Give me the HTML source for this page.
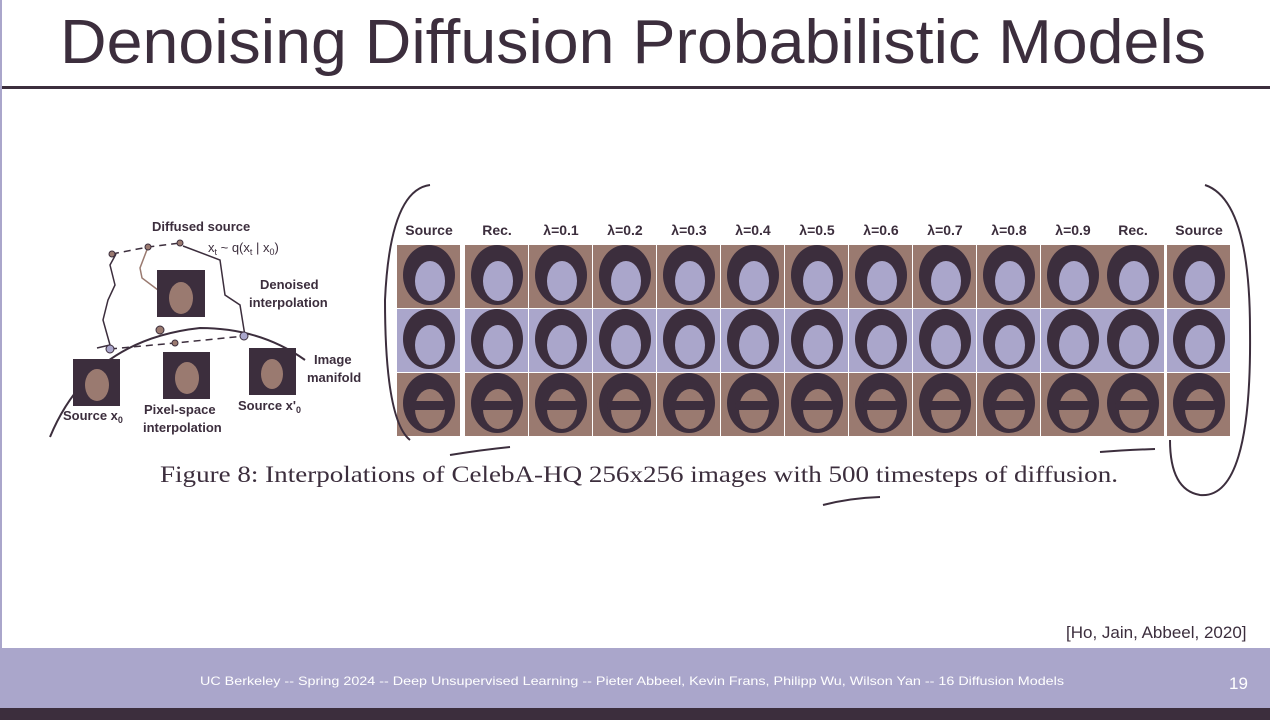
<!DOCTYPE html>
<html><head><meta charset="utf-8"><style>
body{margin:0;width:1270px;height:720px;overflow:hidden;background:#fff;position:relative;font-family:"Liberation Sans",sans-serif}
.abs{position:absolute}
</style></head><body>
<div class="abs" style="left:0;top:0;width:2px;height:648px;background:#aaa6cb"></div>
<svg class="abs" style="left:0;top:0" width="1270" height="720">
<text x="60" y="63" font-size="62" fill="#3c2e3d" textLength="1146" lengthAdjust="spacingAndGlyphs" font-family="Liberation Sans, sans-serif">Denoising Diffusion Probabilistic Models</text>
<rect x="2" y="86" width="1268" height="3" fill="#3c2e3d"/>
<g font-family="Liberation Sans, sans-serif" font-weight="bold" font-size="13" fill="#3c2e3d">
<text x="152" y="231">Diffused source</text>
<text x="208" y="252" font-weight="normal">x<tspan font-size="9" dy="3">t</tspan><tspan dy="-3"> ~ q(x</tspan><tspan font-size="9" dy="3">t</tspan><tspan dy="-3"> | x</tspan><tspan font-size="9" dy="3">0</tspan><tspan dy="-3">)</tspan></text>
<text x="260" y="289">Denoised</text><text x="249" y="307">interpolation</text>
<text x="314" y="364">Image</text><text x="307" y="382">manifold</text>
<text x="63" y="420">Source x<tspan font-size="9" dy="3">0</tspan></text>
<text x="144" y="414">Pixel-space</text><text x="143" y="432">interpolation</text>
<text x="238" y="410">Source x'<tspan font-size="9" dy="3">0</tspan></text>
<path d="M50 437 Q90 340 200 328 Q260 328 305 360" stroke="#3c2e3d" stroke-width="2" fill="none"/>
<path d="M110 349 L175 343 L245 336 M112 254 L148 247 L180 243" stroke="#3c2e3d" stroke-width="1.5" stroke-dasharray="7,5" fill="none"/>
<path d="M97 348 L110 345 L103 320 L108 300 L115 285 L110 265 L116 254" stroke="#3c2e3d" stroke-width="1.5" fill="none"/>
<path d="M245 336 L240 305 L225 295 L220 260 L183 246" stroke="#3c2e3d" stroke-width="1.5" fill="none"/>
<path d="M158 310 L158 290 L142 278 L140 268 L148 247" stroke="#9a7a70" stroke-width="1.5" fill="none"/>
<circle cx="110" cy="349" r="4" fill="#aaa6cb" stroke="#3c2e3d"/><circle cx="160" cy="330" r="4" fill="#9a7a70" stroke="#3c2e3d"/><circle cx="244" cy="336" r="4" fill="#aaa6cb" stroke="#3c2e3d"/>
<circle cx="112" cy="254" r="3" fill="#9a7a70" stroke="#3c2e3d"/><circle cx="148" cy="247" r="3" fill="#9a7a70" stroke="#3c2e3d"/><circle cx="180" cy="243" r="3" fill="#9a7a70" stroke="#3c2e3d"/><circle cx="175" cy="343" r="3" fill="#9a7a70" stroke="#3c2e3d"/>
<rect x="157" y="270" width="48" height="47" fill="#3c2e3d"/><ellipse cx="181" cy="298" rx="12" ry="16" fill="#9a7a70"/>
<rect x="73" y="359" width="47" height="47" fill="#3c2e3d"/><ellipse cx="97" cy="385" rx="12" ry="16" fill="#9a7a70"/>
<rect x="163" y="352" width="47" height="47" fill="#3c2e3d"/><ellipse cx="187" cy="378" rx="12" ry="16" fill="#9a7a70"/>
<rect x="249" y="348" width="47" height="47" fill="#3c2e3d"/><ellipse cx="272" cy="374" rx="11" ry="15" fill="#9a7a70"/>
</g>
<g id="grid"></g>
<text x="160" y="482" font-size="23" fill="#3c2e3d" font-family="Liberation Serif, serif" textLength="958" lengthAdjust="spacingAndGlyphs">Figure 8:  Interpolations of CelebA-HQ 256x256 images with 500 timesteps of diffusion.</text>
<g stroke="#3c2e3d" stroke-width="2" fill="none">
<path d="M430 185 Q390 190 385 300 Q385 420 410 440"/>
<path d="M1205 185 Q1250 200 1250 330 Q1252 500 1200 495 Q1170 490 1170 440"/>
<path d="M823 505 Q850 498 880 497"/><path d="M450 455 Q480 450 510 447"/><path d="M1100 452 Q1125 450 1155 449"/>
</g>
<text x="1066" y="638" font-size="17" fill="#3c2e3d">[Ho, Jain, Abbeel, 2020]</text>
<rect x="0" y="648" width="1270" height="61" fill="#aaa6cb"/>
<rect x="0" y="708" width="1270" height="12" fill="#3c2e3d"/>
<text x="200" y="685" font-size="12" fill="#fff" textLength="864" lengthAdjust="spacingAndGlyphs">UC Berkeley -- Spring 2024 -- Deep Unsupervised Learning -- Pieter Abbeel, Kevin Frans, Philipp Wu, Wilson Yan -- 16 Diffusion Models</text>
<text x="1229" y="689" font-size="17" fill="#fff">19</text>
</svg>
<script>
const headers=["Source","Rec.","λ=0.1","λ=0.2","λ=0.3","λ=0.4","λ=0.5","λ=0.6","λ=0.7","λ=0.8","λ=0.9","Rec.","Source"];
const ns="http://www.w3.org/2000/svg";
const g=document.getElementById('grid');
const x0=[397,465,529,593,657,721,785,849,913,977,1041,1101,1167];
const rows=[245,309,373];
function mk(t,a){const e=document.createElementNS(ns,t);for(const k in a)e.setAttribute(k,a[k]);g.appendChild(e);return e;}
headers.forEach((h,i)=>{
 const t=mk('text',{x:x0[i]+32,y:235,'text-anchor':'middle','font-size':14,'font-weight':'bold',fill:'#3c2e3d','font-family':'Liberation Sans, sans-serif'});
 t.textContent=h;
 
 
 rows.forEach((y,r)=>{
  const c=mk('rect',{x:x0[i],y:y,width:63,height:63,fill:r==1?'#aaa6cb':'#9a7a70'});
  
  
  mk('ellipse',{cx:x0[i]+32,cy:y+30,rx:26,ry:30,fill:'#3c2e3d'});
  mk('ellipse',{cx:x0[i]+33,cy:y+36,rx:15,ry:20,fill:r==2?'#9a7a70':'#aaa6cb'});
  if(r==2){mk('rect',{x:x0[i]+14,y:y+28,width:36,height:9,rx:4,fill:'#3c2e3d'});}
 });
});
</script>
</body></html>
